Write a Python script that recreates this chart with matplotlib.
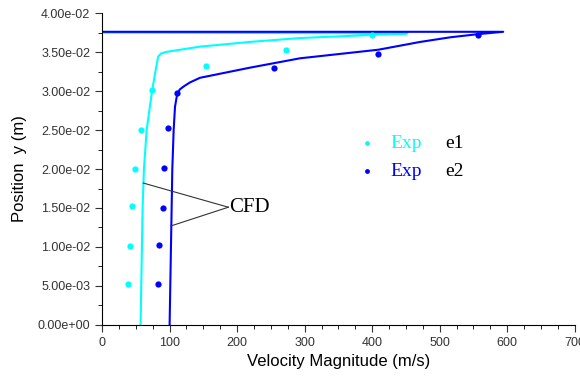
import numpy as np
import matplotlib
matplotlib.use('Agg')
import matplotlib.pyplot as plt
from matplotlib.ticker import MultipleLocator, FormatStrFormatter

# CFD profiles (velocity m/s, position m)
cfd_e1_v = [57, 58, 59, 60, 62, 66, 74, 80, 83, 87, 94, 101, 145, 219, 293, 400, 452, 0]
cfd_e1_y = [0.0, 0.005, 0.010, 0.015, 0.020, 0.025, 0.030, 0.033, 0.0344, 0.0348,
            0.0350, 0.0351, 0.0357, 0.0363, 0.0368, 0.0372, 0.0374, 0.0375]
cfd_e2_v = [100, 101, 102, 103, 104, 106, 108, 111, 115, 121, 130, 145, 219, 293, 409,
            471, 516, 557, 594, 0]
cfd_e2_y = [0.0, 0.005, 0.010, 0.015, 0.020, 0.025, 0.028, 0.0295, 0.0302, 0.0306,
            0.0311, 0.0317, 0.0330, 0.0342, 0.0353, 0.0363, 0.0369, 0.0373, 0.0376, 0.0376]

# experimental points
exp_e1_v = [39, 42, 45, 49, 57, 74, 154, 272, 400]
exp_e1_y = [0.0053, 0.0101, 0.0152, 0.0200, 0.0250, 0.0301, 0.0332, 0.0353, 0.0372]
exp_e2_v = [83, 85, 90, 91, 97, 111, 255, 409, 557]
exp_e2_y = [0.0053, 0.0102, 0.0150, 0.0201, 0.0253, 0.0297, 0.0329, 0.0347, 0.0372]

c1 = '#00ffff'
c2 = '#0000ff'

fig = plt.figure(figsize=(5.8, 3.85), dpi=100)
ax = fig.add_axes([0.176, 0.156, 0.815, 0.81])

ax.plot(cfd_e1_v, cfd_e1_y, color=c1, lw=1.5)
ax.plot(cfd_e2_v, cfd_e2_y, color=c2, lw=1.5)
ax.plot(exp_e1_v, exp_e1_y, 'o', color=c1, ms=4.5, mec='none')
ax.plot(exp_e2_v, exp_e2_y, 'o', color=c2, ms=4.5, mec='none')

# legend drawn by hand
ax.plot([393], [0.0233], 'o', color=c1, ms=3.5, mec='none')
ax.plot([393], [0.0197], 'o', color=c2, ms=3.5, mec='none')
ax.text(427, 0.0233, 'Exp', color=c1, fontsize=14, family='Liberation Serif', va='center')
ax.text(427, 0.0197, 'Exp', color=c2, fontsize=14, family='Liberation Serif', va='center')
ax.text(508, 0.0233, 'e1', color='black', fontsize=14, family='Liberation Serif', va='center')
ax.text(508, 0.0197, 'e2', color='black', fontsize=14, family='Liberation Serif', va='center')

# CFD annotation
ax.text(188, 0.0151, 'CFD', fontsize=15, family='Liberation Serif', va='center')
ax.plot([61, 187], [0.0182, 0.0151], color='#333333', lw=0.8)
ax.plot([102, 187], [0.0127, 0.0151], color='#333333', lw=0.8)

ax.set_xlim(0, 700)
ax.set_ylim(0, 0.04)
ax.spines['top'].set_visible(False)
ax.spines['right'].set_visible(False)
ax.xaxis.set_major_locator(MultipleLocator(100))
ax.xaxis.set_minor_locator(MultipleLocator(25))
ax.yaxis.set_major_locator(MultipleLocator(0.005))
ax.yaxis.set_minor_locator(MultipleLocator(0.0025))
ax.yaxis.set_major_formatter(FormatStrFormatter('%.2e'))
ax.tick_params(which='major', length=5, labelsize=9, colors='#333333')
ax.tick_params(which='minor', length=3)
for lab in ax.get_xticklabels() + ax.get_yticklabels():
    lab.set_family('Liberation Sans')

ax.set_xlabel('Velocity Magnitude (m/s)', fontsize=12, family='Liberation Sans')
ax.set_ylabel('Position  y (m)', fontsize=12, family='Liberation Sans', labelpad=8)

plt.savefig('out.png', dpi=100)
